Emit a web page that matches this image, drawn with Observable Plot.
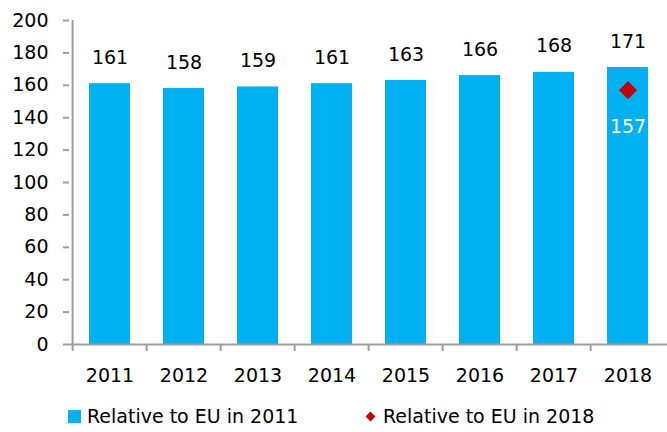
<!DOCTYPE html>
<html>
<head>
<meta charset="utf-8">
<script src="https://cdn.jsdelivr.net/npm/d3@7"></script>
<script src="https://cdn.jsdelivr.net/npm/@observablehq/plot@0.6"></script>
<style>
  body { margin: 0; background: #fff; font-family: "DejaVu Sans", sans-serif; }
  #chart { width: 667px; }
  .legend { display: flex; align-items: center; height: 32px; font-size: 19px; color: #000; position: relative; }
  .item { position: absolute; display: flex; align-items: center; top: 5px; }
  .sq { width: 13px; height: 13px; background: #00B0F0; margin-right: 6px; }
  .dm { width: 7px; height: 7px; background: #C00000; transform: rotate(45deg); margin-right: 9px; margin-left: 1px; }
</style>
</head>
<body>
<div id="chart"></div>
<script>
const years = ["2011","2012","2013","2014","2015","2016","2017","2018"];
const rel2011 = [161, 158, 159, 161, 163, 166, 168, 171];
const rel2018Year = ["2018"];
const rel2018 = [157];
const yTicks = [0, 20, 40, 60, 80, 100, 120, 140, 160, 180, 200];
const legendLabels = ["Relative to EU in 2011", "Relative to EU in 2018"];

const bars = years.map((y, i) => ({year: y, value: rel2011[i]}));
const dots = rel2018Year.map((y, i) => ({year: y, value: rel2018[i]}));

const W = 667, H = 400, ML = 69, MR = 0;
const step = (W - ML - MR) / years.length;
const axisColor = "#9d9d9d";

const plot = Plot.plot({
  width: W, height: H,
  marginLeft: ML, marginRight: MR, marginTop: 20, marginBottom: 56,
  style: {fontFamily: "DejaVu Sans, sans-serif", fontSize: "19px", color: "#000", background: "#fff"},
  x: {domain: years, paddingInner: 0.45, paddingOuter: 0.225, label: null},
  y: {domain: [0, 200], label: null},
  marks: [
    Plot.barY(bars, {x: "year", y: "value", fill: "#00B0F0"}),
    Plot.ruleY([0], {stroke: axisColor, strokeWidth: 2}),
    Plot.ruleX([years[0]], {y1: 0, y2: 200, dx: -step / 2, stroke: axisColor, strokeWidth: 2}),
    Plot.axisY({ticks: yTicks, tickSize: 6, tickPadding: 15, stroke: axisColor, strokeWidth: 2, fill: "#000", fontSize: 19, label: null}),
    Plot.axisX({tickSize: 7, tickFormat: () => "", dx: -step / 2, stroke: axisColor, strokeWidth: 2, label: null}),
    Plot.axisX({tickSize: 0, tickPadding: 24, fill: "#000", fontSize: 19, label: null}),
    Plot.text(bars, {x: "year", y: "value", text: d => String(d.value), dy: -26, fill: "#000", fontSize: 19}),
    Plot.dot(dots, {x: "year", y: "value", symbol: "diamond2", r: 8.1, fill: "#C00000", stroke: "none"}),
    Plot.text(dots, {x: "year", y: "value", text: d => String(d.value), dy: 37, fill: "#fff", fontSize: 19})
  ]
});
document.getElementById("chart").appendChild(plot);

const legend = document.createElement("div");
legend.className = "legend";
legend.innerHTML = `
  <div class="item" style="left:68px"><div class="sq"></div><span>${legendLabels[0]}</span></div>
  <div class="item" style="left:366px"><div class="dm"></div><span>${legendLabels[1]}</span></div>`;
document.getElementById("chart").appendChild(legend);
</script>
</body>
</html>
